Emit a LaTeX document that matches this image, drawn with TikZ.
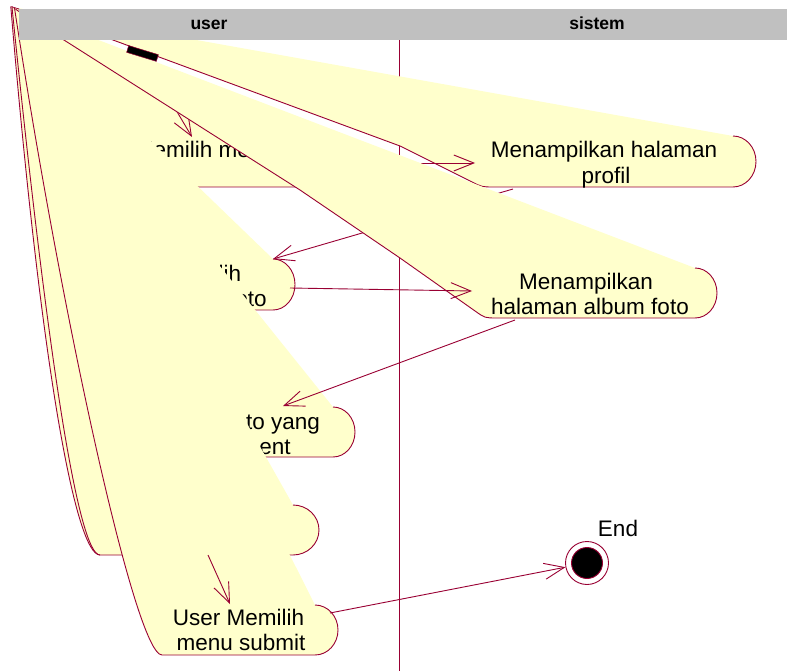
\documentclass[tikz,border=0pt]{standalone}
\usepackage{fontspec}
\setmainfont{Liberation Sans}
\usetikzlibrary{arrows.meta}
\definecolor{rose}{RGB}{153,0,51}
\definecolor{actfill}{RGB}{255,255,204}
\definecolor{lanegray}{RGB}{192,192,192}

\begin{document}
\begin{tikzpicture}[x=1pt,y=-1pt,
  edge/.style={draw=rose, line width=0.9pt},
  flow/.style={draw=rose, line width=0.9pt, -{Straight Barb[length=20pt,width=16pt]}},
  actbody/.style={fill=actfill},
  lbl/.style={anchor=base, inner sep=0pt, font=\fontsize{22.5}{26}\selectfont},
  head/.style={anchor=base, inner sep=0pt, font=\bfseries\fontsize{17.5}{20}\selectfont}]

\useasboundingbox (0,0) rectangle (787,671);

% common corner that every activity outline runs back to
\coordinate (A) at (12,7);
\coordinate (A5) at (10.8,6.6);
\coordinate (A7) at (14.5,8);

% transition end points
\coordinate (startc) at (142.5,53.5);
\coordinate (s1in) at (192,137);
\coordinate (s1out) at (328,163);
\coordinate (s2in) at (475,163);
\coordinate (s2out) at (513,189);
\coordinate (s4in) at (273,259);
\coordinate (s4out) at (290,288);
\coordinate (s3in) at (472,291);
\coordinate (s3out) at (515,320);
\coordinate (s6in) at (283,406);
\coordinate (s5out) at (208,555);
\coordinate (s7in) at (230,604);
\coordinate (s7out) at (330,613);

% swimlane divider
\coordinate (laneTop) at (399,40);
\coordinate (laneBot) at (399,671);
\draw[rose, line width=0.8pt] (laneTop) -- (laneBot);

% activity: user chooses the profile menu
\fill[actbody] (A) -- (305,137) .. controls (317.7,137) and (328,148.2) .. (328,162)
  .. controls (328,175.8) and (317.7,187) .. (305,187) -- (100,187)
  .. controls (80,187) and (40,100) .. (A) -- cycle;
\draw[edge] (305,137) .. controls (317.7,137) and (328,148.2) .. (328,162)
  .. controls (328,175.8) and (317.7,187) .. (305,187) -- (100,187)
  .. controls (80,187) and (40,100) .. (A);
\node[lbl, anchor=base west] (s1a) at (81,158) {User Memilih menu};

% activity: profile page shown
\fill[actbody] (A) -- (733,136) .. controls (745.7,136) and (756,147.4) .. (756,161.5)
  .. controls (756,175.6) and (745.7,187) .. (733,187) -- (494,187)
  .. controls (482,187) .. (471.3,181.6) -- (400,146) -- (113,40) -- (A) -- cycle;
\draw[edge] (733,136) .. controls (745.7,136) and (756,147.4) .. (756,161.5)
  .. controls (756,175.6) and (745.7,187) .. (733,187) -- (494,187)
  .. controls (482,187) .. (471.3,181.6) -- (400,146) -- (113,40) -- (A);
\draw[edge] (A5) -- (19,9.3);
\node[lbl] (s2a) at (604,158) {Menampilkan halaman};
\node[lbl] (s2b) at (606,183.5) {profil};

% transitions drawn beneath the album page activity
\draw[flow] (startc) -- (s1in);
\draw[flow] (s1out) -- (s2in);
\draw[flow] (s2out) -- (s4in);

% activity: album page shown
\fill[actbody] (A) -- (695,268) .. controls (707.2,268) and (717,279.2) .. (717,293)
  .. controls (717,306.8) and (707.2,318) .. (695,318) -- (497,318)
  .. controls (485,318) .. (475.2,311.1) -- (400,258) -- (300,190) -- (A) -- cycle;
\draw[edge] (695,268) .. controls (707.2,268) and (717,279.2) .. (717,293)
  .. controls (717,306.8) and (707.2,318) .. (695,318) -- (497,318)
  .. controls (485,318) .. (475.2,311.1) -- (400,258) -- (300,190) -- (A);
\node[lbl] (s3a) at (586,289.5) {Menampilkan};
\node[lbl] (s3b) at (590,314) {halaman album foto};

% activity: user chooses the album menu
\fill[actbody] (A) -- (273,259) .. controls (285.2,259) and (295,270.4) .. (295,284.5)
  .. controls (295,298.6) and (285.2,310) .. (273,310) -- (110,310)
  .. controls (85,310) and (45,150) .. (A) -- cycle;
\draw[edge] (273,259) .. controls (285.2,259) and (295,270.4) .. (295,284.5)
  .. controls (295,298.6) and (285.2,310) .. (273,310) -- (110,310)
  .. controls (85,310) and (45,150) .. (A);
\node[lbl] (s4a) at (175.5,281) {User Memilih};
\node[lbl] (s4b) at (183,306.5) {menu album foto};

\draw[flow] (s4out) -- (s3in);

% activity: user chooses the photo to comment on
\fill[actbody] (A) -- (333,407) .. controls (345.2,407) and (355,418.2) .. (355,432)
  .. controls (355,445.8) and (345.2,457) .. (333,457) -- (115,457)
  .. controls (90,457) and (50,250) .. (A) -- cycle;
\draw[edge] (333,407) .. controls (345.2,407) and (355,418.2) .. (355,432)
  .. controls (355,445.8) and (345.2,457) .. (333,457) -- (115,457)
  .. controls (90,457) and (50,250) .. (A);
\node[lbl] (s6a) at (205,429) {User Memilih foto yang};
\node[lbl] (s6b) at (205,454) {akan di comment};

\draw[flow] (s3out) -- (s6in);

% activity without visible caption
\fill[actbody] (A) -- (293,505) .. controls (307.4,505) and (319,516.2) .. (319,530)
  .. controls (319,543.8) and (307.4,555) .. (293,555) -- (100,555)
  .. controls (75,555) and (40,357) .. (A5) -- cycle;
\draw[edge] (293,505) .. controls (307.4,505) and (319,516.2) .. (319,530)
  .. controls (319,543.8) and (307.4,555) .. (293,555) -- (100,555)
  .. controls (75,555) and (40,357) .. (A5);
\draw[edge] (100,555) .. controls (78,555) and (47,352) .. (A);

% activity: user chooses submit
\fill[actbody] (A7) -- (315,605) .. controls (327.7,605) and (338,616.2) .. (338,630)
  .. controls (338,643.8) and (327.7,655) .. (315,655) -- (162,655)
  .. controls (135,655) and (60,307) .. (A7) -- cycle;
\draw[edge] (315,605) .. controls (327.7,605) and (338,616.2) .. (338,630)
  .. controls (338,643.8) and (327.7,655) .. (315,655) -- (162,655)
  .. controls (135,655) and (60,307) .. (A7);
\node[lbl] (s7a) at (238.5,625) {User Memilih};
\node[lbl] (s7b) at (241,650) {menu submit};

\draw[flow] (s5out) -- (s7in);

% final state
\node[circle, draw=rose, fill=white, line width=0.9pt, minimum size=43pt, inner sep=0pt] (end) at (587,563) {};
\node[circle, draw=rose, fill=black, line width=0.9pt, minimum size=31pt, inner sep=0pt] (endcore) at (end.center) {};
\node[lbl] (endlbl) at (618,536) {End};
\draw[flow] (s7out) -- (end);

% initial state
\node[fill=black, draw=rose, line width=0.5pt, minimum width=31pt, minimum height=7pt,
  inner sep=0pt, rotate=-17] (start) at (startc) {};

% swimlane header
\fill[lanegray] (19,9) rectangle (787,40);
\node[head] (laneUser) at (209,30) {user};
\node[head] (laneSys) at (597,30) {sistem};

\end{tikzpicture}
\end{document}
